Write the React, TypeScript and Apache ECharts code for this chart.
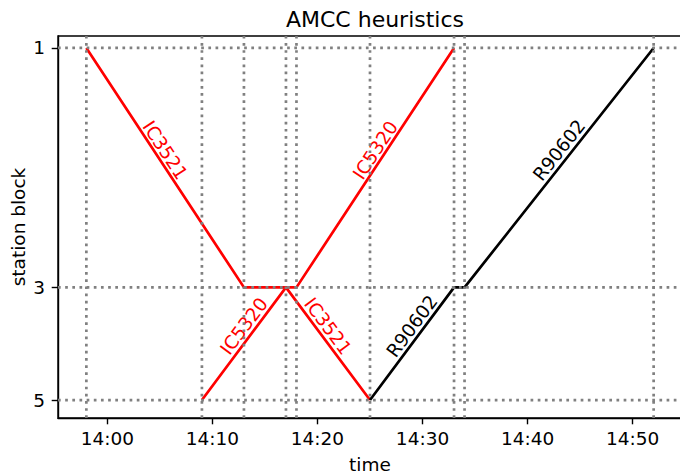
import React, { useEffect, useRef } from 'react';
import * as echarts from 'echarts';

// ---- data ----
const stationLabels = ['1', '3', '5'];
const stationPos = [0, 6.8, 10];
const xTickLabels = ['14:00', '14:10', '14:20', '14:30', '14:40', '14:50'];

const ic3521Times = ['13:58', '14:13', '14:17', '14:25'];
const ic3521Stations = ['1', '3', '3', '5'];
const ic5320Times = ['14:09', '14:17', '14:18', '14:33'];
const ic5320Stations = ['5', '3', '3', '1'];
const r90602Times = ['14:25', '14:33', '14:34', '14:52'];
const r90602Stations = ['5', '3', '3', '1'];

const gridTimes = ['13:58', '14:09', '14:13', '14:17', '14:18', '14:25', '14:33', '14:34', '14:52'];

const trains = [
  { name: 'IC3521', times: ic3521Times, stations: ic3521Stations, color: '#ff0000' },
  { name: 'IC5320', times: ic5320Times, stations: ic5320Stations, color: '#ff0000' },
  { name: 'R90602', times: r90602Times, stations: r90602Stations, color: '#000000' },
];

const toMin = (t: string) => {
  const [h, m] = t.split(':').map(Number);
  return h * 60 + m;
};
const posOf = (s: string) => stationPos[stationLabels.indexOf(s)];
const fmtMin = (v: number) => {
  const h = Math.floor(v / 60);
  const m = Math.round(v - h * 60);
  return `${h}:${m < 10 ? '0' + m : m}`;
};

const FONT = '"DejaVu Sans", Verdana, sans-serif';
const GRID_LEFT = 58;
const GRID_TOP = 36;
const GRID_W = 624;
const GRID_H = 382;

export default function App() {
  const ref = useRef<HTMLDivElement>(null);
  useEffect(() => {
    if (!ref.current) return;
    const chart = echarts.init(ref.current, undefined, { renderer: 'svg' });

    const gridMins = gridTimes.map(toMin);
    const tMinData = Math.min(...gridMins);
    const tMaxData = Math.max(...gridMins);
    const span = tMaxData - tMinData;
    const xMin = tMinData - 0.05 * span;
    const xMax = tMaxData + 0.05 * span;
    const yMin = -0.34;
    const yMax = 10.51;
    const xTickValues = xTickLabels.map(toMin);
    const labelOffset = 0.5;

    const labelSegs: { t1: number; y1: number; t2: number; y2: number; name: string; color: string }[] = [];
    trains.forEach((tr) => {
      for (let i = 0; i < tr.times.length - 1; i++) {
        if (tr.stations[i] !== tr.stations[i + 1]) {
          labelSegs.push({
            t1: toMin(tr.times[i]),
            y1: posOf(tr.stations[i]),
            t2: toMin(tr.times[i + 1]),
            y2: posOf(tr.stations[i + 1]),
            name: tr.name,
            color: tr.color,
          });
        }
      }
    });

    const dotted = { stroke: '#808080', lineWidth: 2.7, lineDash: [2.7, 4.46] };

    const series: any[] = trains.map((tr) => ({
      type: 'line',
      name: tr.name,
      data: tr.times.map((t, i) => [toMin(t), posOf(tr.stations[i])]),
      showSymbol: false,
      symbol: 'none',
      lineStyle: { color: tr.color, width: 2.7 },
      itemStyle: { color: tr.color },
      z: 2,
      silent: true,
    }));

    series.push({
      type: 'custom',
      data: labelSegs.map((s) => [s.t1, s.y1, s.t2, s.y2]),
      encode: { x: [0, 2], y: [1, 3] },
      z: 3,
      silent: true,
      renderItem: (params: any, api: any) => {
        const s = labelSegs[params.dataIndex];
        const p1 = api.coord([s.t1, s.y1]);
        const p2 = api.coord([s.t2, s.y2]);
        const c = api.coord([(s.t1 + s.t2) / 2, (s.y1 + s.y2) / 2 - labelOffset]);
        let ang = Math.atan2(p2[1] - p1[1], p2[0] - p1[0]);
        if (ang > Math.PI / 2) ang -= Math.PI;
        if (ang < -Math.PI / 2) ang += Math.PI;
        return {
          type: 'text',
          x: c[0],
          y: c[1],
          rotation: -ang,
          style: {
            text: s.name,
            fill: s.color,
            font: `18.5px ${FONT}`,
            align: 'center',
            verticalAlign: 'middle',
          },
        };
      },
    });

    // vertical dotted lines
    series.push({
      type: 'custom',
      data: gridMins.map((t) => [t]),
      encode: { x: 0 },
      z: 5,
      silent: true,
      renderItem: (params: any, api: any) => {
        const t = gridMins[params.dataIndex];
        const a = api.coord([t, yMax]);
        const b = api.coord([t, yMin]);
        return {
          type: 'line',
          shape: { x1: a[0], y1: a[1], x2: b[0], y2: b[1] },
          style: dotted,
        };
      },
    });

    // horizontal dotted lines
    series.push({
      type: 'custom',
      data: stationPos.map((p) => [xMin, p]),
      encode: { x: 0, y: 1 },
      z: 5,
      silent: true,
      renderItem: (params: any, api: any) => {
        const p = stationPos[params.dataIndex];
        const a = api.coord([xMin, p]);
        const b = api.coord([xMax, p]);
        return {
          type: 'line',
          shape: { x1: a[0], y1: a[1], x2: b[0], y2: b[1] },
          style: dotted,
        };
      },
    });

    const axisText = { color: '#000', fontSize: 18.5, fontFamily: FONT };

    chart.setOption({
      animation: false,
      backgroundColor: '#ffffff',
      title: {
        text: 'AMCC heuristics',
        left: GRID_LEFT + GRID_W / 2,
        textAlign: 'center',
        top: 3,
        textStyle: { color: '#000', fontSize: 22, fontWeight: 'normal', fontFamily: FONT },
      },
      grid: {
        left: GRID_LEFT,
        top: GRID_TOP,
        width: GRID_W,
        height: GRID_H,
        containLabel: false,
        outerBoundsMode: 'none',
        show: true,
        borderColor: '#000',
        borderWidth: 1.4,
        backgroundColor: 'transparent',
      },
      xAxis: {
        type: 'value',
        min: xMin,
        max: xMax,
        name: 'time',
        nameLocation: 'middle',
        nameGap: 36,
        nameMoveOverlap: false,
        nameTextStyle: { ...axisText, padding: 0, lineHeight: 20 },
        axisLine: { show: true, onZero: false, lineStyle: { color: '#000', width: 1.4 } },
        axisTick: {
          show: true,
          customValues: xTickValues,
          length: 6.3,
          lineStyle: { color: '#000', width: 1.4 },
        },
        axisLabel: {
          customValues: xTickValues,
          formatter: (v: number) => fmtMin(v),
          margin: 11,
          ...axisText,
        },
        splitLine: { show: false },
      },
      yAxis: {
        type: 'value',
        inverse: true,
        min: yMin,
        max: yMax,
        name: 'station block',
        nameLocation: 'middle',
        nameGap: 30,
        nameRotate: 90,
        nameMoveOverlap: false,
        nameTextStyle: { ...axisText, padding: 0, lineHeight: 20 },
        axisLine: { show: true, onZero: false, lineStyle: { color: '#000', width: 1.4 } },
        axisTick: {
          show: true,
          customValues: stationPos,
          length: 6.3,
          lineStyle: { color: '#000', width: 1.4 },
        },
        axisLabel: {
          customValues: stationPos,
          formatter: (v: number) => {
            let best = 0;
            stationPos.forEach((p, i) => {
              if (Math.abs(p - v) < Math.abs(stationPos[best] - v)) best = i;
            });
            return stationLabels[best];
          },
          margin: 13,
          ...axisText,
        },
        splitLine: { show: false },
      },
      series,
    });

    return () => chart.dispose();
  }, []);

  return (
    <div
      ref={ref}
      style={{ position: 'fixed', left: 0, top: 0, width: 680, height: 473, background: '#fff' }}
    />
  );
}
